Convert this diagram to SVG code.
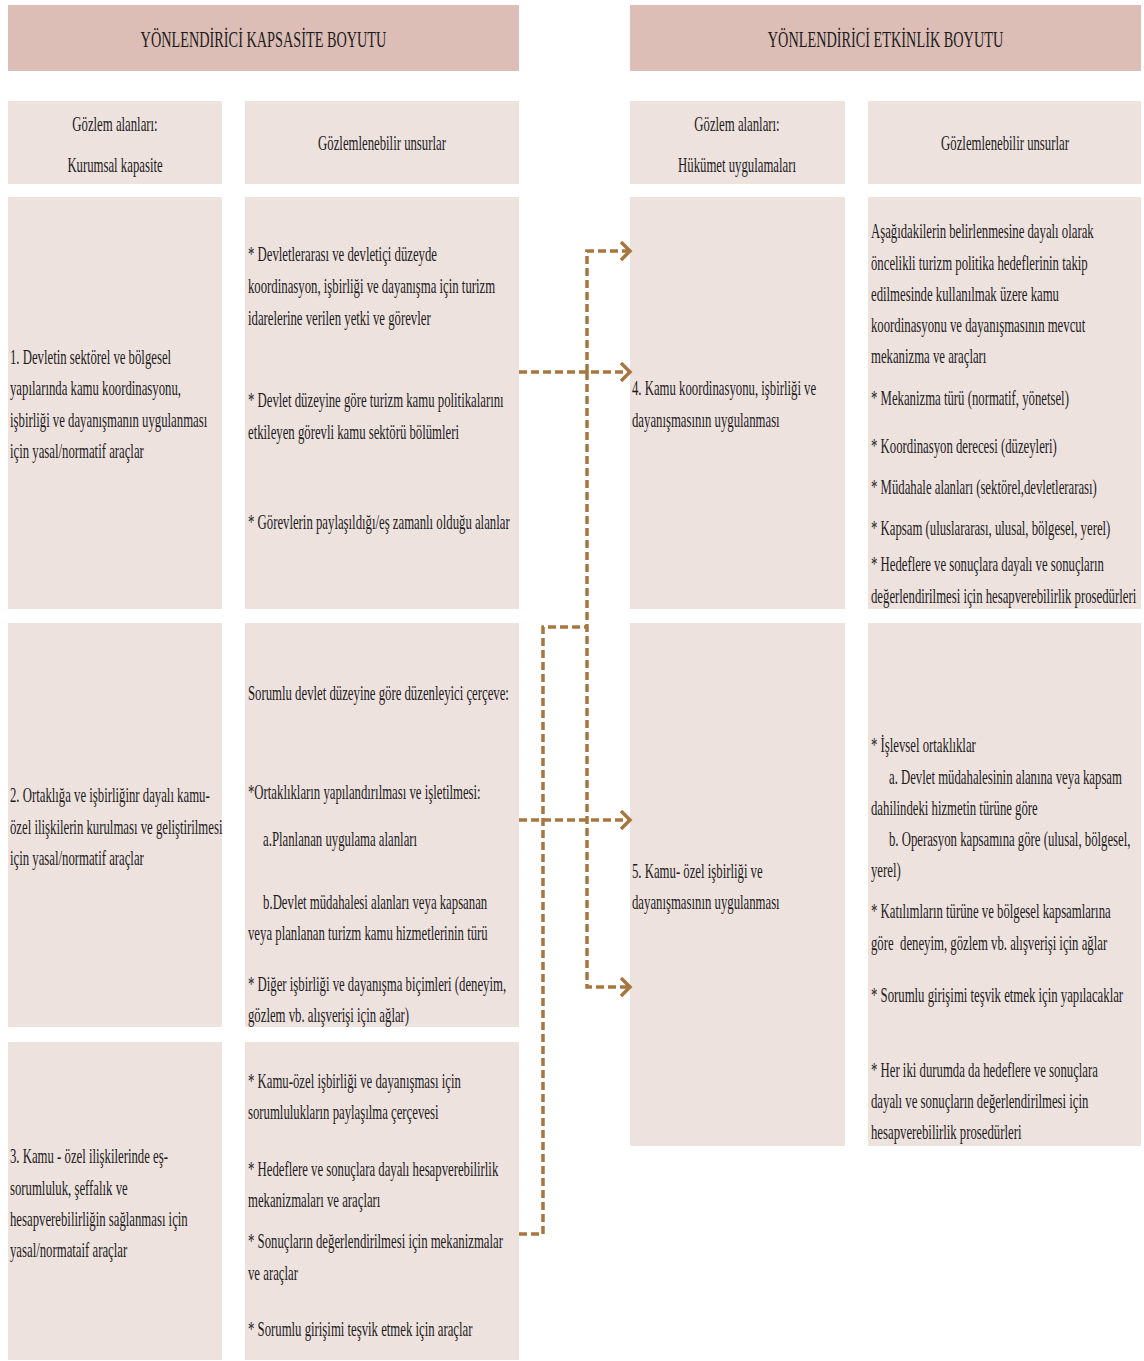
<svg xmlns="http://www.w3.org/2000/svg" width="1144" height="1361" viewBox="0 0 1144 1361">
  <defs>
    <style>
      .hdr { fill: #DCBEB6; }
      .box { fill: #EEE2DF; }
      text { font-family: "Liberation Serif", "Times New Roman", serif; font-size: 22px; fill: #1c1c1c; }
      .big { font-size: 24px; }
      .mid { text-anchor: middle; }
      .link { fill: none; stroke: #A8773F; stroke-width: 3.5; stroke-dasharray: 8 4; }
    </style>
    <marker id="chev" markerUnits="userSpaceOnUse" markerWidth="24" markerHeight="26" viewBox="-13 -13 16 26" refX="0" refY="0" orient="auto" overflow="visible">
      <path d="M-9,-9 L0,0 L-9,9" fill="none" stroke="#A8773F" stroke-width="3.5" stroke-dasharray="none"/>
    </marker>
  </defs>

  <!-- Dimension headers -->
  <g id="hdr-capacity">
    <rect class="hdr" x="8" y="5" width="511" height="66"/>
    <text class="big mid" transform="translate(263.5,0) scale(0.595,1)"><tspan x="0" y="47">YÖNLENDİRİCİ KAPSASİTE BOYUTU</tspan></text>
  </g>
  <g id="hdr-effectiveness">
    <rect class="hdr" x="630" y="5" width="511" height="66"/>
    <text class="big mid" transform="translate(885.5,0) scale(0.595,1)"><tspan x="0" y="47">YÖNLENDİRİCİ ETKİNLİK BOYUTU</tspan></text>
  </g>

  <!-- Column titles -->
  <g id="col-areas-left">
    <rect class="box" x="8" y="101" width="214" height="83"/>
    <text class="mid" transform="translate(115,0) scale(0.58,1)"><tspan x="0" y="131">Gözlem alanları:</tspan><tspan x="0" y="172">Kurumsal kapasite</tspan></text>
  </g>
  <g id="col-items-left">
    <rect class="box" x="245" y="101" width="274" height="83"/>
    <text class="mid" transform="translate(382,0) scale(0.58,1)"><tspan x="0" y="150">Gözlemlenebilir unsurlar</tspan></text>
  </g>
  <g id="col-areas-right">
    <rect class="box" x="630" y="101" width="215" height="83"/>
    <text class="mid" transform="translate(737,0) scale(0.58,1)"><tspan x="0" y="131">Gözlem alanları:</tspan><tspan x="0" y="172">Hükümet uygulamaları</tspan></text>
  </g>
  <g id="col-items-right">
    <rect class="box" x="868" y="101" width="273" height="83"/>
    <text class="mid" transform="translate(1005,0) scale(0.58,1)"><tspan x="0" y="150">Gözlemlenebilir unsurlar</tspan></text>
  </g>

  <!-- Row 1 -->
  <g id="area-1">
    <rect class="box" x="8" y="197" width="214" height="412"/>
    <text transform="translate(10,0) scale(0.58,1)">
      <tspan x="0" y="364">1. Devletin sektörel ve bölgesel</tspan>
      <tspan x="0" y="395">yapılarında kamu koordinasyonu,</tspan>
      <tspan x="0" y="427">işbirliği ve dayanışmanın uygulanması</tspan>
      <tspan x="0" y="458">için yasal/normatif araçlar</tspan>
    </text>
  </g>
  <g id="items-1">
    <rect class="box" x="245" y="197" width="274" height="412"/>
    <text transform="translate(248,0) scale(0.58,1)">
      <tspan x="0" y="261">* Devletlerarası ve devletiçi düzeyde</tspan>
      <tspan x="0" y="293">koordinasyon, işbirliği ve dayanışma için turizm</tspan>
      <tspan x="0" y="325">idarelerine verilen yetki ve görevler</tspan>
      <tspan x="0" y="407">* Devlet düzeyine göre turizm kamu politikalarını</tspan>
      <tspan x="0" y="439">etkileyen görevli kamu sektörü bölümleri</tspan>
      <tspan x="0" y="529">* Görevlerin paylaşıldığı/eş zamanlı olduğu alanlar</tspan>
    </text>
  </g>
  <g id="practice-4">
    <rect class="box" x="630" y="197" width="215" height="412"/>
    <text transform="translate(632,0) scale(0.58,1)">
      <tspan x="0" y="395">4. Kamu koordinasyonu, işbirliği ve</tspan>
      <tspan x="0" y="427">dayanışmasının uygulanması</tspan>
    </text>
  </g>
  <g id="practice-items-4">
    <rect class="box" x="868" y="197" width="273" height="412"/>
    <text transform="translate(871,0) scale(0.58,1)">
      <tspan x="0" y="238">Aşağıdakilerin belirlenmesine dayalı olarak</tspan>
      <tspan x="0" y="270">öncelikli turizm politika hedeflerinin takip</tspan>
      <tspan x="0" y="301">edilmesinde kullanılmak üzere kamu</tspan>
      <tspan x="0" y="332">koordinasyonu ve dayanışmasının mevcut</tspan>
      <tspan x="0" y="363">mekanizma ve araçları</tspan>
      <tspan x="0" y="405">* Mekanizma türü (normatif, yönetsel)</tspan>
      <tspan x="0" y="453">* Koordinasyon derecesi (düzeyleri)</tspan>
      <tspan x="0" y="494">* Müdahale alanları (sektörel,devletlerarası)</tspan>
      <tspan x="0" y="535">* Kapsam (uluslararası, ulusal, bölgesel, yerel)</tspan>
      <tspan x="0" y="571">* Hedeflere ve sonuçlara dayalı ve sonuçların</tspan>
      <tspan x="0" y="603">değerlendirilmesi için hesapverebilirlik prosedürleri</tspan>
    </text>
  </g>

  <!-- Row 2 -->
  <g id="area-2">
    <rect class="box" x="8" y="623" width="214" height="404"/>
    <text transform="translate(10,0) scale(0.58,1)">
      <tspan x="0" y="802">2. Ortaklığa ve işbirliğinr dayalı kamu-</tspan>
      <tspan x="0" y="834">özel ilişkilerin kurulması ve geliştirilmesi</tspan>
      <tspan x="0" y="865">için yasal/normatif araçlar</tspan>
    </text>
  </g>
  <g id="items-2">
    <rect class="box" x="245" y="623" width="274" height="404"/>
    <text transform="translate(248,0) scale(0.58,1)">
      <tspan x="0" y="700">Sorumlu devlet düzeyine göre düzenleyici çerçeve:</tspan>
      <tspan x="0" y="799">*Ortaklıkların yapılandırılması ve işletilmesi:</tspan>
      <tspan x="26" y="846">a.Planlanan uygulama alanları</tspan>
      <tspan x="26" y="909">b.Devlet müdahalesi alanları veya kapsanan</tspan>
      <tspan x="0" y="940">veya planlanan turizm kamu hizmetlerinin türü</tspan>
      <tspan x="0" y="991">* Diğer işbirliği ve dayanışma biçimleri (deneyim,</tspan>
      <tspan x="0" y="1022">gözlem vb. alışverişi için ağlar)</tspan>
    </text>
  </g>
  <g id="practice-5">
    <rect class="box" x="630" y="623" width="215" height="523"/>
    <text transform="translate(632,0) scale(0.58,1)">
      <tspan x="0" y="878">5. Kamu- özel işbirliği ve</tspan>
      <tspan x="0" y="909">dayanışmasının uygulanması</tspan>
    </text>
  </g>
  <g id="practice-items-5">
    <rect class="box" x="868" y="623" width="273" height="523"/>
    <text transform="translate(871,0) scale(0.58,1)">
      <tspan x="0" y="752">* İşlevsel ortaklıklar</tspan>
      <tspan x="31" y="784">a. Devlet müdahalesinin alanına veya kapsam</tspan>
      <tspan x="0" y="815">dahilindeki hizmetin türüne göre</tspan>
      <tspan x="31" y="846">b. Operasyon kapsamına göre (ulusal, bölgesel,</tspan>
      <tspan x="0" y="877">yerel)</tspan>
      <tspan x="0" y="918">* Katılımların türüne ve bölgesel kapsamlarına</tspan>
      <tspan x="0" y="950">göre&#160; deneyim, gözlem vb. alışverişi için ağlar</tspan>
      <tspan x="0" y="1002">* Sorumlu girişimi teşvik etmek için yapılacaklar</tspan>
      <tspan x="0" y="1077">* Her iki durumda da hedeflere ve sonuçlara</tspan>
      <tspan x="0" y="1108">dayalı ve sonuçların değerlendirilmesi için</tspan>
      <tspan x="0" y="1139">hesapverebilirlik prosedürleri</tspan>
    </text>
  </g>

  <!-- Row 3 -->
  <g id="area-3">
    <rect class="box" x="8" y="1042" width="214" height="318"/>
    <text transform="translate(10,0) scale(0.58,1)">
      <tspan x="0" y="1163">3. Kamu - özel ilişkilerinde eş-</tspan>
      <tspan x="0" y="1195">sorumluluk, şeffalık ve</tspan>
      <tspan x="0" y="1226">hesapverebilirliğin sağlanması için</tspan>
      <tspan x="0" y="1257">yasal/normataif araçlar</tspan>
    </text>
  </g>
  <g id="items-3">
    <rect class="box" x="245" y="1042" width="274" height="318"/>
    <text transform="translate(248,0) scale(0.58,1)">
      <tspan x="0" y="1088">* Kamu-özel işbirliği ve dayanışması için</tspan>
      <tspan x="0" y="1119">sorumlulukların paylaşılma çerçevesi</tspan>
      <tspan x="0" y="1176">* Hedeflere ve sonuçlara dayalı hesapverebilirlik</tspan>
      <tspan x="0" y="1207">mekanizmaları ve araçları</tspan>
      <tspan x="0" y="1248">* Sonuçların değerlendirilmesi için mekanizmalar</tspan>
      <tspan x="0" y="1280">ve araçlar</tspan>
      <tspan x="0" y="1336">* Sorumlu girişimi teşvik etmek için araçlar</tspan>
    </text>
  </g>

  <!-- Dashed connectors -->
  <g id="connectors">
    <path class="link" d="M519,372 H630" marker-end="url(#chev)"/>
    <path class="link" d="M587,372 V251 H630" marker-end="url(#chev)"/>
    <path class="link" d="M587,372 V987 H630" marker-end="url(#chev)"/>
    <path class="link" d="M519,820 H630" marker-end="url(#chev)"/>
    <path class="link" d="M519,1234 H543 V627 H587"/>
  </g>
</svg>
